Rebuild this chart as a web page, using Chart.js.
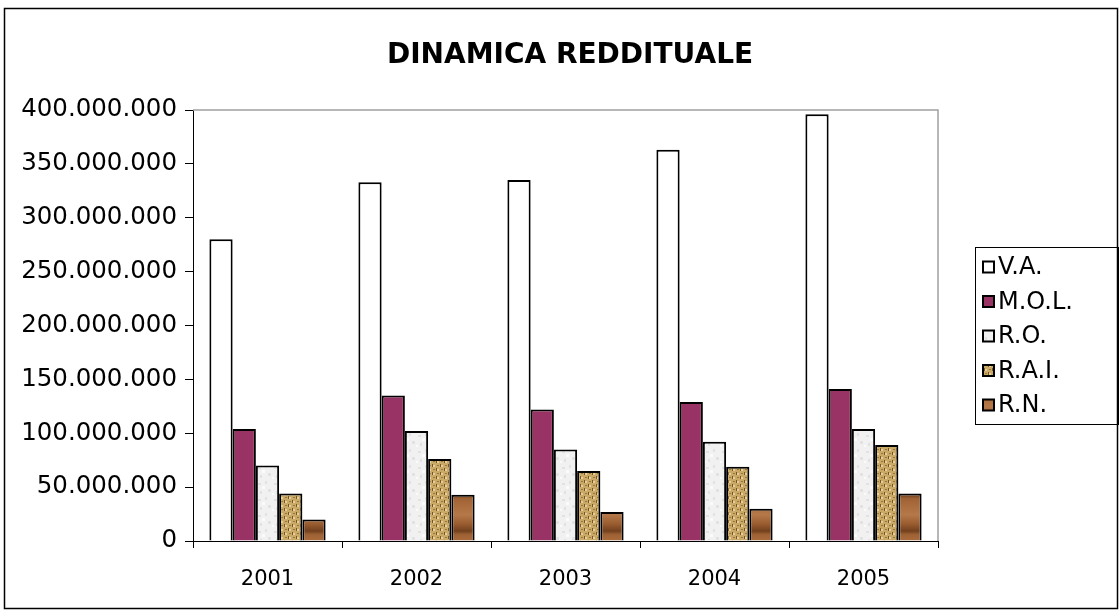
<!DOCTYPE html>
<html>
<head>
<meta charset="utf-8">
<script src="https://cdn.jsdelivr.net/npm/chart.js@4.4.1/dist/chart.umd.min.js"></script>
<style>
  html, body { margin: 0; padding: 0; background: #fff; }
  #wrap { width: 1120px; height: 613px; }
</style>
</head>
<body>
<div id="wrap"><canvas id="chart" width="1120" height="613"></canvas></div>
<script>
const years = ["2001", "2002", "2003", "2004", "2005"];
const seriesNames = ["V.A.", "M.O.L.", "R.O.", "R.A.I.", "R.N."];
const va  = [280000000, 333000000, 335000000, 363000000, 396000000];
const mol = [104000000, 135000000, 122000000, 129000000, 141000000];
const ro  = [70000000, 102000000, 85000000, 92000000, 104000000];
const rai = [44000000, 76000000, 65000000, 69000000, 89000000];
const rn  = [20000000, 43000000, 27000000, 30000000, 44000000];
const yTicks = [0, 50000000, 100000000, 150000000, 200000000, 250000000, 300000000, 350000000, 400000000];
const chartTitle = "DINAMICA REDDITUALE";

const FONT = "'DejaVu Sans', Verdana, sans-serif";

function fmt(v) {
    return String(v).replace(/\B(?=(\d{3})+(?!\d))/g, ".");
}

function makePattern(w, h, draw) {
    const c = document.createElement("canvas");
    c.width = w;
    c.height = h;
    const g = c.getContext("2d");
    draw(g, w, h);
    return g.createPattern(c, "repeat");
}

// light grey marble
const marble = makePattern(16, 16, function (g, w, h) {
    g.fillStyle = "#f1f1f1";
    g.fillRect(0, 0, w, h);
    g.fillStyle = "#e2e2e2";
    g.fillRect(2, 3, 3, 2);
    g.fillRect(9, 1, 2, 3);
    g.fillRect(12, 9, 3, 3);
    g.fillRect(4, 11, 2, 3);
    g.fillStyle = "#fbfbfb";
    g.fillRect(6, 6, 3, 3);
    g.fillRect(0, 13, 2, 2);
});

// tan woven texture
const woven = makePattern(8, 8, function (g, w, h) {
    g.fillStyle = "#caa866";
    g.fillRect(0, 0, w, h);
    g.fillStyle = "#e6cf9a";
    g.fillRect(1, 1, 2, 2);
    g.fillRect(5, 5, 2, 2);
    g.fillStyle = "#765528";
    g.fillRect(0, 0, 1, 3);
    g.fillRect(4, 4, 1, 3);
    g.fillStyle = "#987838";
    g.fillRect(5, 1, 2, 1);
    g.fillRect(1, 5, 2, 1);
});

// brown wood
const wood = makePattern(20, 36, function (g, w, h) {
    const gr = g.createLinearGradient(0, 0, 0, h);
    gr.addColorStop(0.0, "#a96a3b");
    gr.addColorStop(0.3, "#b47849");
    gr.addColorStop(0.55, "#9a5d30");
    gr.addColorStop(0.75, "#73401e");
    gr.addColorStop(0.85, "#9e6234");
    gr.addColorStop(1.0, "#a96a3b");
    g.fillStyle = gr;
    g.fillRect(0, 0, w, h);
});

const fills = ["#ffffff", "#993366", marble, woven, wood];
const values = [va, mol, ro, rai, rn];

const frame = {
    id: "frame",
    afterDraw(chart) {
        const ctx = chart.ctx;
        const a = chart.chartArea;
        ctx.save();
        // plot area top/right border
        ctx.strokeStyle = "#a0a0a0";
        ctx.lineWidth = 1.5;
        ctx.beginPath();
        ctx.moveTo(a.left, a.top);
        ctx.lineTo(a.right, a.top);
        ctx.lineTo(a.right, a.bottom);
        ctx.stroke();

        // outer border
        ctx.strokeStyle = "#000";
        ctx.lineWidth = 1.5;
        ctx.strokeRect(4.5, 8.5, 1113, 600);

        // title
        ctx.fillStyle = "#000";
        ctx.font = "bold 28px " + FONT;
        ctx.textAlign = "center";
        ctx.textBaseline = "middle";
        ctx.fillText(chartTitle, 570, 56);

        // legend
        const lx = 975, ly = 247, lw = 143, lh = 177;
        ctx.lineWidth = 1;
        ctx.strokeRect(lx + 0.5, ly + 0.5, lw, lh);
        ctx.font = "24px " + FONT;
        ctx.textAlign = "left";
        chart.data.datasets.forEach(function (ds, i) {
            const y = ly + 20 + i * 34.5;
            ctx.fillStyle = ds.backgroundColor;
            ctx.fillRect(lx + 8, y - 5.5, 11, 11);
            ctx.strokeStyle = "#000";
            ctx.lineWidth = 2;
            ctx.strokeRect(lx + 8, y - 5.5, 11, 11);
            ctx.fillStyle = "#000";
            ctx.fillText(ds.label, lx + 23, y + 1);
        });
        ctx.restore();
    }
};

new Chart(document.getElementById("chart"), {
    type: "bar",
    data: {
        labels: years,
        datasets: seriesNames.map(function (name, i) {
            return {
                label: name,
                data: values[i],
                backgroundColor: fills[i],
                borderColor: "#000",
                borderWidth: 2,
                categoryPercentage: 0.78,
                barPercentage: 1.0
            };
        })
    },
    options: {
        responsive: false,
        animation: false,
        layout: { padding: { left: 0, right: 182, top: 110, bottom: 0 } },
        plugins: {
            legend: { display: false },
            tooltip: { enabled: false },
            title: { display: false }
        },
        scales: {
            x: {
                grid: { drawOnChartArea: false, tickLength: 7, color: "#000", offset: true },
                border: { color: "#000", width: 1 },
                ticks: { color: "#000", font: { family: FONT, size: 21 }, padding: 19 },
                afterFit: function (s) { s.height = 72; }
            },
            y: {
                min: 0,
                max: 400000000,
                afterBuildTicks: function (s) { s.ticks = yTicks.map(function (v) { return { value: v }; }); },
                grid: { drawOnChartArea: false, tickLength: 8, color: "#000" },
                border: { color: "#000", width: 1 },
                ticks: {
                    color: "#000",
                    font: { family: FONT, size: 24.5 },
                    padding: 8,
                    callback: function (v) { return fmt(v); }
                },
                afterFit: function (s) { s.width = 193; }
            }
        }
    },
    plugins: [frame]
});
</script>
</body>
</html>
